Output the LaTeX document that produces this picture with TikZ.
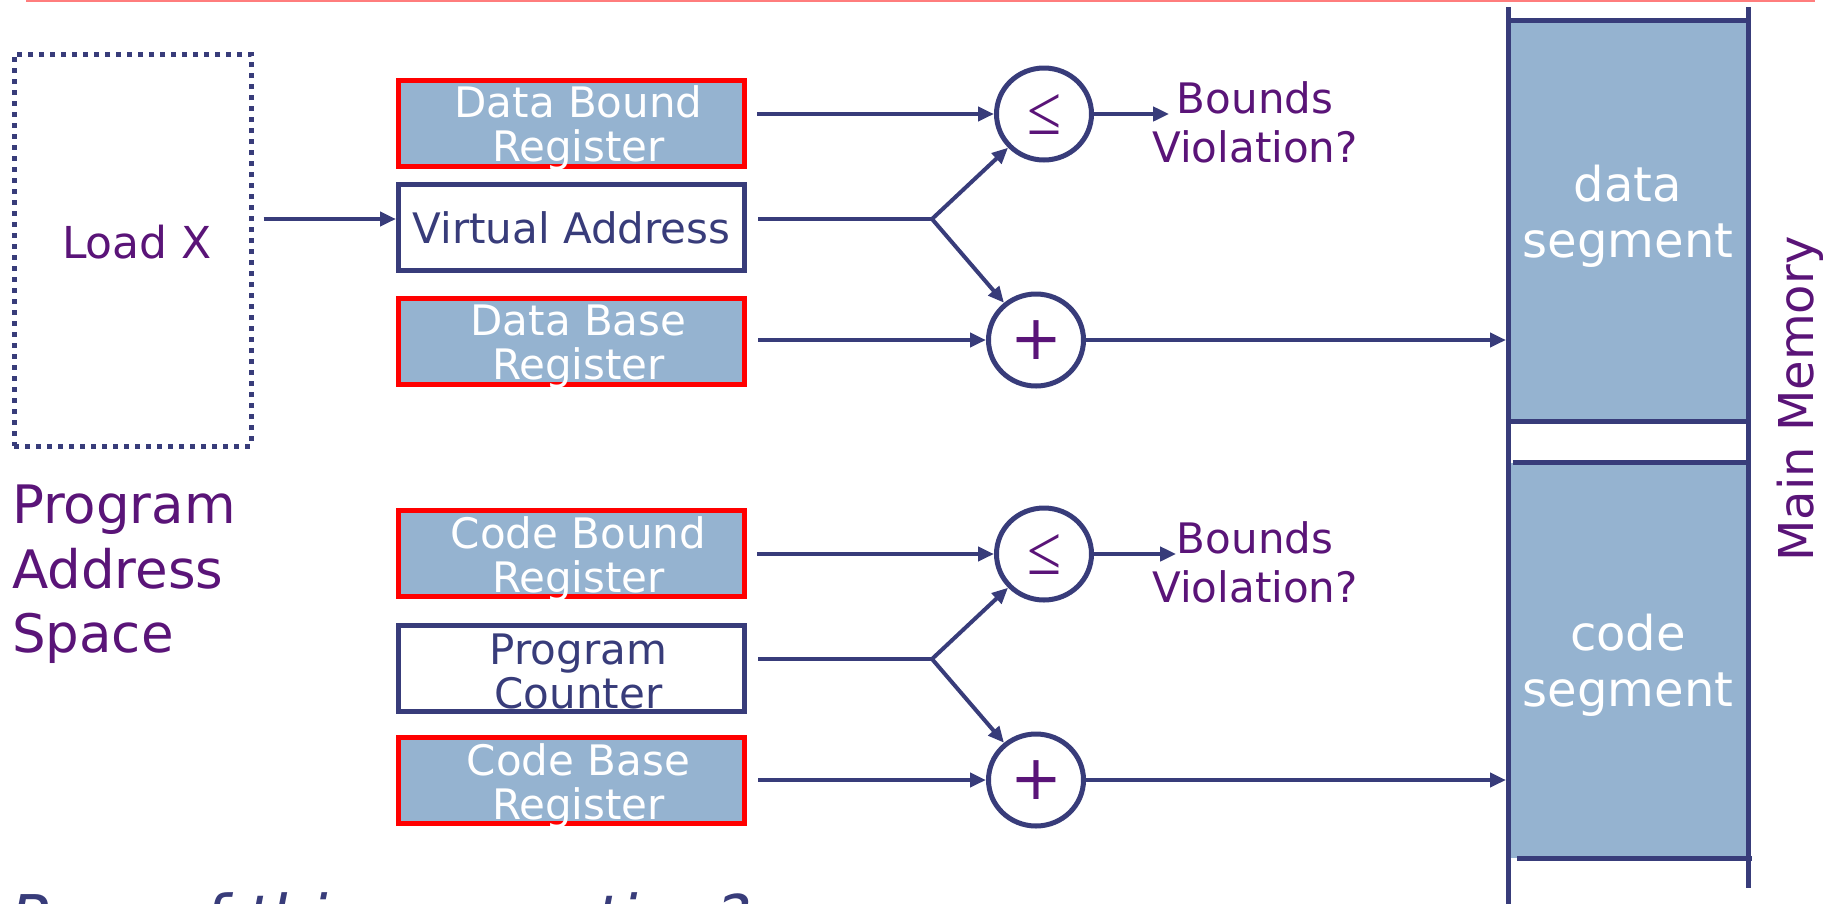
\documentclass[tikz,border=0pt]{standalone}
\usepackage{fontspec}
\setmainfont{DejaVu Sans}
\newfontfamily\lefont{Liberation Serif}
\usepackage{graphicx}
\usetikzlibrary{arrows.meta,shapes.geometric}
\definecolor{navy}{RGB}{56,60,122}
\definecolor{purp}{RGB}{90,20,120}
\definecolor{memblue}{RGB}{149,179,208}
\definecolor{topred}{RGB}{255,125,125}
\definecolor{regred}{RGB}{255,0,0}
\tikzset{
  conn/.style={draw=navy, line width=4pt},
  arr/.style={conn, -{Triangle[length=16pt,width=14pt]}},
  memline/.style={draw=navy, line width=5pt},
  regbox/.style={rectangle, fill=memblue, draw=regred, line width=5pt,
    minimum width=346pt, minimum height=86pt, inner sep=0pt, text=white,
    align=center, font=\fontsize{42}{44}\selectfont},
  plainreg/.style={regbox, fill=white, draw=navy, text=navy},
  regtext/.style={label={[text=white, align=center, inner sep=0pt,
    font=\fontsize{42}{44}\selectfont, xshift=7pt, yshift=-5pt]center:#1}},
  pcregtext/.style={label={[text=navy, align=center, inner sep=0pt,
    font=\fontsize{42}{44}\selectfont, xshift=7pt, yshift=-3pt]center:#1}},
  opnode/.style={ellipse, draw=navy, fill=white, line width=5pt,
    minimum width=95pt, minimum height=92pt, inner sep=0pt, text=purp},
  purplbl/.style={text=purp, align=center, inner sep=0pt,
    font=\fontsize{42}{49}\selectfont},
  seg/.style={rectangle, fill=memblue, minimum width=240pt, inner sep=0pt},
  segtxt/.style={text=white, align=center, inner sep=0pt,
    font=\fontsize{48}{56}\selectfont},
  plussym/.style={font=\fontsize{62}{64}\selectfont},
}
\newcommand{\lesign}{\resizebox{34pt}{40pt}{\lefont ≤}}
\begin{document}
\begin{tikzpicture}[x=1pt,y=-1pt]
\useasboundingbox (0,0) rectangle (1839,903);
\fill[white] (0,0) rectangle (1839,903);

% top rule
\coordinate (trL) at (26,1);
\coordinate (trR) at (1815,1);
\draw[topred, line width=2.5pt] (trL) -- (trR);

% program address space
\node[draw=navy, line width=5pt, dash pattern=on 5pt off 6pt,
      minimum width=237pt, minimum height=392pt, inner sep=0pt] (progbox) at (132.5,250) {};
\node[purplbl, font=\fontsize{44}{48}\selectfont] (loadx) at (137,242) {Load X};
\node[purplbl, align=left, anchor=north west, font=\fontsize{53}{64.5}\selectfont]
  (pas) at (12,485) {Program\\Address\\Space};

% registers
\node[regbox, regtext={Data Bound\\Register}]   (dbr)   at (571.5,123)   {};
\node[plainreg] (va)    at (571.5,227.5) {Virtual Address};
\node[regbox, regtext={Data Base\\Register}]    (dbase) at (571.5,341.5) {};
\node[regbox, regtext={Code Bound\\Register}]   (cbr)   at (571.5,553.5) {};
\node[plainreg, pcregtext={Program\\Counter}]   (pc)    at (571.5,668)   {};
\node[regbox, regtext={Code Base\\Register}]    (cbase) at (571.5,780.5) {};

% operators
\node[opnode]          (le1) at (1044,114) {\lesign};
\node[opnode, plussym] (pl1) at (1036,340) {+};
\node[opnode]          (le2) at (1044,554) {\lesign};
\node[opnode, plussym] (pl2) at (1036,780) {+};

% bounds violation labels
\node[purplbl] (bv1) at (1255,122) {Bounds\\Violation?};
\node[purplbl] (bv2) at (1255,562) {Bounds\\Violation?};

% branch points
\coordinate (br1) at (932,219);
\coordinate (br2) at (932,659);

% memory
\node[seg, minimum height=400pt] (dseg) at (1628,221) {};
\node[segtxt] (dsegtxt) at ([yshift=5pt]dseg.center) {data\\segment};
\node[seg, minimum height=395pt] (cseg) at (1628,660.5) {};
\node[segtxt] (csegtxt) at ([yshift=-5pt]cseg.center) {code\\segment};
\coordinate (mlT) at (1508,7);
\coordinate (mlB) at (1508,910);
\coordinate (mrT) at (1748,7);
\coordinate (mrB) at (1748,888);
\draw[memline] (mlT) -- (mlB);
\draw[memline] (mrT) -- (mrB);
\draw[memline] (dseg.north west) -- (dseg.north east);
\draw[memline] (dseg.south west) -- (dseg.south east);
\draw[memline] ([xshift=5pt]cseg.north west) -- (cseg.north east);
\draw[memline] ([xshift=9pt]cseg.south west) -- ([xshift=4pt]cseg.south east);
\node[purplbl, rotate=90, font=\fontsize{48}{50}\selectfont] (mm) at (1800,399) {Main Memory};

% connectors: data path
\draw[arr] ([xshift=10pt]progbox.east |- br1) -- (va.west |- br1);
\draw[arr] ([xshift=10pt]dbr.east |- le1.west) -- (le1.west);
\draw[conn] ([xshift=11pt]va.east |- br1) -- (br1);
\draw[arr] (br1) -- (le1);
\draw[arr] (br1) -- (pl1);
\draw[arr] ([xshift=11pt]dbase.east |- pl1.west) -- (pl1.west);
\draw[arr] (pl1.east) -- ([xshift=-2pt]mlT |- pl1.east);
\draw[arr] (le1.east) -- ([xshift=17pt]bv1.west |- le1.east);

% connectors: code path
\draw[arr] ([xshift=10pt]cbr.east |- le2.west) -- (le2.west);
\draw[conn] ([xshift=11pt]pc.east |- br2) -- (br2);
\draw[arr] (br2) -- (le2);
\draw[arr] (br2) -- (pl2);
\draw[arr] ([xshift=11pt]cbase.east |- pl2.west) -- (pl2.west);
\draw[arr] (pl2.east) -- ([xshift=-2pt]mlT |- pl2.east);
\draw[arr] (le2.east) -- ([xshift=24pt]bv2.west |- le2.east);

% bottom question
\node[anchor=north west, inner sep=0pt, text=navy,
      font=\fontsize{63}{70}\selectfont\itshape] (pros) at (10,892) {Pros of this separation?};
\end{tikzpicture}
\end{document}
